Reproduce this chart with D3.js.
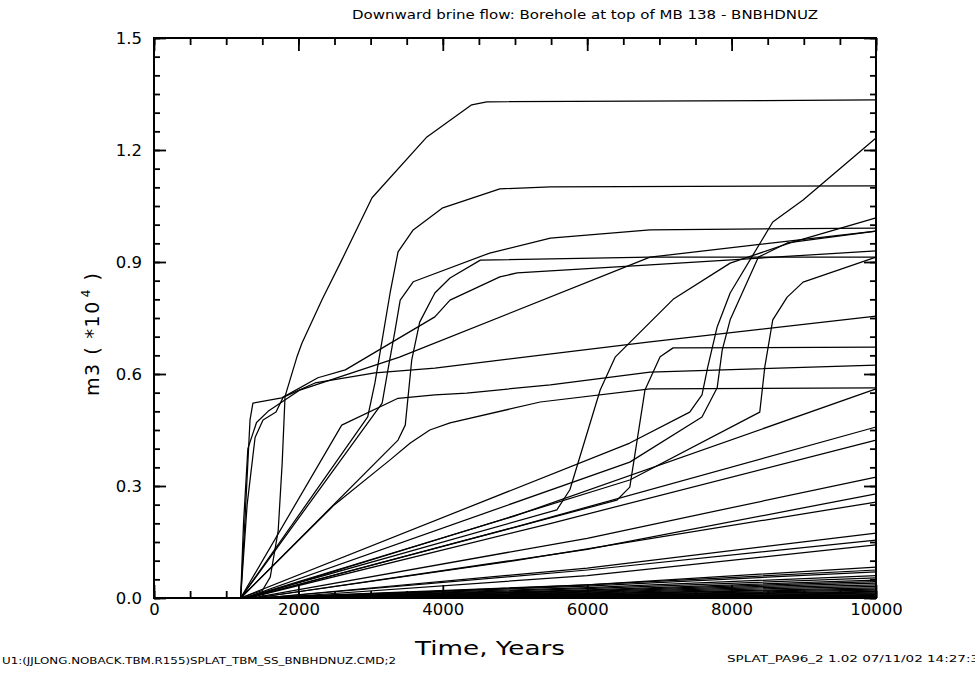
<!DOCTYPE html>
<html><head><meta charset="utf-8">
<script src="https://cdn.jsdelivr.net/npm/d3@7"></script>
<style>body{margin:0;background:#fff}svg{display:block}</style>
</head><body>
<svg id="chart" width="975" height="673"></svg>
<script>
// ---------- text ----------
const titleText = "Downward brine flow: Borehole at top of MB 138 - BNBHDNUZ";
const xLabelText = "Time, Years";
const yLabelMain = "m3 ( *10";
const yLabelSup = "4";
const yLabelEnd = " )";
const footLeft = "U1:(JJLONG.NOBACK.TBM.R155)SPLAT_TBM_SS_BNBHDNUZ.CMD;2";
const footRight = "SPLAT_PA96_2 1.02 07/11/02 14:27:3";

// ---------- ticks ----------
const xTicks = [0, 2000, 4000, 6000, 8000, 10000];
const yTicks = [0, 0.3, 0.6, 0.9, 1.2, 1.5];

// ---------- series: [time (years), volume (m3 * 10^4)] ----------
const curveA = [[1200,0],[1500,0.02],[1610,0.056],[1720,0.18],[1775,0.36],[1815,0.54],[1980,0.646],[2050,0.683],[2330,0.8],[2600,0.905],[3020,1.072],[3780,1.235],[4400,1.321],[4610,1.329],[10000,1.334]];
const curveB = [[1200,0],[2960,0.485],[3060,0.576],[3160,0.691],[3270,0.817],[3380,0.927],[3590,0.986],[4000,1.045],[4790,1.096],[5490,1.101],[10000,1.104]];
const curveD = [[1200,0],[3160,0.522],[3240,0.611],[3340,0.718],[3410,0.798],[3590,0.847],[4650,0.924],[5490,0.964],[6870,0.986],[10000,0.991]];
const curveH = [[1200,0],[3380,0.423],[3480,0.463],[3570,0.638],[3680,0.739],[3890,0.817],[4100,0.857],[4520,0.905],[6870,0.913],[10000,0.913]];
const curveJ1 = [[1200,0],[1260,0.21],[1330,0.477],[1370,0.522],[1770,0.536],[2230,0.576],[3060,0.603],[3890,0.616],[6870,0.686],[10000,0.755]];
const curveJ2 = [[1200,0],[1290,0.25],[1400,0.43],[1510,0.477],[1690,0.498],[1790,0.538],[2270,0.59],[2650,0.611],[3890,0.753],[4100,0.798],[4790,0.86],[5030,0.871],[6870,0.892],[10000,0.93]];
const curveJ3 = [[1200,0],[1240,0.2],[1300,0.4],[1420,0.47],[1580,0.5],[2020,0.557],[3400,0.645],[6870,0.913],[10000,0.983]];
const curveN = [[1200,0],[2600,0.463],[3380,0.535],[3890,0.544],[4330,0.549],[5490,0.571],[6870,0.605],[10000,0.624]];
const curveL = [[1200,0],[2500,0.25],[3270,0.37],[3550,0.415],[3820,0.45],[4100,0.469],[5350,0.525],[6870,0.56],[10000,0.563]];
const curveE = [[1250,0],[5580,0.236],[5760,0.29],[6180,0.557],[6390,0.646],[7190,0.8],[7980,0.897],[8810,0.951],[10000,1.018]];
const curveF = [[1300,0],[6410,0.262],[6590,0.297],[6800,0.557],[7010,0.646],[7190,0.67],[10000,0.672]];
const curveC = [[1200,0],[6590,0.415],[7420,0.498],[7590,0.544],[7670,0.619],[7800,0.726],[7980,0.817],[8570,1.007],[8990,1.066],[10000,1.232]];
const curveE2 = [[1250,0],[6590,0.364],[7590,0.485],[7800,0.563],[7870,0.664],[7980,0.745],[8370,0.913],[8770,0.951],[10000,0.983]];
const curveG = [[1300,0],[6590,0.316],[8390,0.498],[8460,0.619],[8570,0.745],[8770,0.806],[8990,0.846],[10000,0.913]];
const lineM1 = [[1250,0],[5000,0.22],[10000,0.56]];
const lineM2 = [[1300,0],[5000,0.19],[10000,0.458]];
const lineM3 = [[1300,0],[5500,0.2],[10000,0.423]];
const lineM4 = [[1350,0],[6000,0.16],[10000,0.324]];
const lineM5 = [[1400,0],[6000,0.13],[10000,0.279]];
const lineM6 = [[1400,0],[5000,0.1],[10000,0.257]];
const lineM7 = [[1500,0],[6000,0.08],[10000,0.174]];
const lineM8 = [[1500,0],[6000,0.075],[10000,0.155]];
const lineM9 = [[1600,0],[6000,0.06],[10000,0.142]];
const lineM10 = [[1700,0],[6000,0.035],[10000,0.083]];
// small near-zero responses: start time, value at 6000, value at 10000
const lowStart = [1300,1350,1400,1450,1500,1550,1600,1700,1800,1900,2000,1400,1500,1650,1750,1850,2100,2300,2500,1300,1450,1600,2200,2700,3000];
const lowMid   = [0.035,0.032,0.028,0.025,0.022,0.02,0.018,0.016,0.014,0.012,0.011,0.009,0.008,0.007,0.006,0.005,0.004,0.0035,0.003,0.0025,0.002,0.0015,0.001,0.0008,0.0005];
const lowEnd   = [0.075,0.07,0.06,0.054,0.048,0.044,0.04,0.035,0.031,0.027,0.024,0.021,0.018,0.016,0.013,0.011,0.009,0.007,0.006,0.005,0.004,0.003,0.002,0.0015,0.001];

const lowSeries = lowStart.map((s, i) => [[s, 0], [6000, lowMid[i]], [10000, lowEnd[i]]]);
const series = [curveA, curveB, curveD, curveH, curveJ1, curveJ2, curveJ3, curveN, curveL,
  curveE, curveF, curveC, curveE2, curveG,
  lineM1, lineM2, lineM3, lineM4, lineM5, lineM6, lineM7, lineM8, lineM9, lineM10, ...lowSeries];

// ---------- drawing ----------
const svg = d3.select("#chart");
const L = 154, R = 876, T = 38, B = 598;
const x = d3.scaleLinear().domain([0, 10000]).range([L, R]);
const y = d3.scaleLinear().domain([0, 1.5]).range([B, T]);
const font = "'DejaVu Sans', sans-serif";

const line = d3.line().x(d => x(d[0])).y(d => y(d[1]));
svg.append("g").selectAll("path").data(series).join("path")
  .attr("d", d => line([[0, 0], ...d]))
  .attr("fill", "none").attr("stroke", "#000").attr("stroke-width", 1.25)
  .attr("stroke-linejoin", "round");

// axes (ticks pointing inward on all four sides)
const minorX = d3.range(0, 10001, 500);
const minorY = d3.range(0, 1.5001, 0.05);
function styleAxis(g) {
  g.select(".domain").remove();
  g.selectAll(".tick line").attr("stroke", "#000").attr("stroke-width", 1.8);
  g.selectAll("text").attr("font-family", font).attr("font-size", 16.5).attr("fill", "#000");
}
svg.append("g").attr("transform", `translate(0,${B})`)
  .call(d3.axisBottom(x).tickValues(minorX).tickSize(-7).tickFormat("")).call(styleAxis);
svg.append("g").attr("transform", `translate(0,${B})`)
  .call(d3.axisBottom(x).tickValues(xTicks).tickSize(-13).tickPadding(5).tickFormat(d3.format("d"))).call(styleAxis);
svg.append("g").attr("transform", `translate(0,${T})`)
  .call(d3.axisTop(x).tickValues(minorX).tickSize(-7).tickFormat("")).call(styleAxis);
svg.append("g").attr("transform", `translate(0,${T})`)
  .call(d3.axisTop(x).tickValues(xTicks).tickSize(-13).tickFormat("")).call(styleAxis);
svg.append("g").attr("transform", `translate(${L},0)`)
  .call(d3.axisLeft(y).tickValues(minorY).tickSize(-6).tickFormat("")).call(styleAxis);
svg.append("g").attr("transform", `translate(${L},0)`)
  .call(d3.axisLeft(y).tickValues(yTicks).tickSize(-12).tickPadding(12).tickFormat(d3.format(".1f"))).call(styleAxis);
svg.append("g").attr("transform", `translate(${R},0)`)
  .call(d3.axisRight(y).tickValues(minorY).tickSize(-6).tickFormat("")).call(styleAxis);
svg.append("g").attr("transform", `translate(${R},0)`)
  .call(d3.axisRight(y).tickValues(yTicks).tickSize(-12).tickFormat("")).call(styleAxis);

// frame
svg.append("rect").attr("x", L).attr("y", T).attr("width", R - L).attr("height", B - T)
  .attr("fill", "none").attr("stroke", "#000").attr("stroke-width", 2);

// title
svg.append("text").attr("x", 352).attr("y", 19).attr("font-family", font).attr("font-size", 12.5)
  .attr("textLength", 466).attr("lengthAdjust", "spacingAndGlyphs").text(titleText);

// x label
svg.append("text").attr("x", 415).attr("y", 655).attr("font-family", font).attr("font-size", 20)
  .attr("textLength", 150).attr("lengthAdjust", "spacingAndGlyphs").text(xLabelText);

// y label (rotated)
const yl = svg.append("text").attr("transform", "translate(99,396) rotate(-90)")
  .attr("font-family", font).attr("font-size", 19).attr("letter-spacing", 1.5);
yl.append("tspan").text(yLabelMain);
yl.append("tspan").attr("dy", -9).attr("dx", 3).attr("font-size", 12).text(yLabelSup);
yl.append("tspan").attr("dy", 9).text(yLabelEnd);

// footers
svg.append("text").attr("x", 2).attr("y", 664).attr("font-family", font).attr("font-size", 8)
  .attr("textLength", 394).attr("lengthAdjust", "spacingAndGlyphs").text(footLeft);
svg.append("text").attr("x", 727).attr("y", 662).attr("font-family", font).attr("font-size", 8)
  .attr("textLength", 252).attr("lengthAdjust", "spacingAndGlyphs").text(footRight);
</script>
</body></html>
